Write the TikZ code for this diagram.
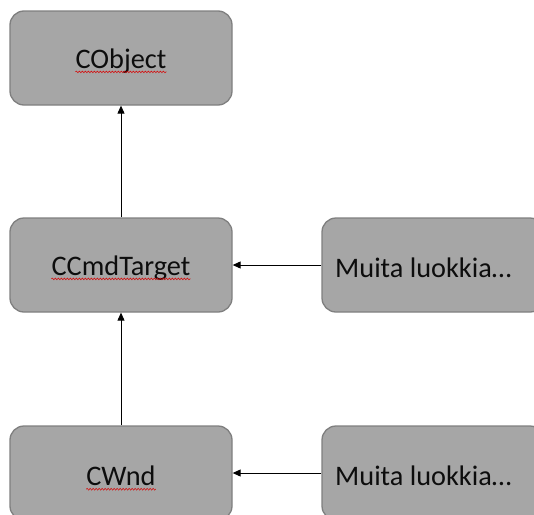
\documentclass[tikz,border=0pt]{standalone}
\usepackage{fontspec}
\setmainfont{Carlito}
\usetikzlibrary{arrows.meta,decorations.pathmorphing}
\definecolor{boxfill}{HTML}{A6A6A6}
\definecolor{boxline}{HTML}{7F7F7F}
\tikzset{
  classbox/.style={draw=boxline, line width=1.3pt, fill=boxfill, rounded corners=14pt,
    minimum width=222pt, minimum height=94pt, inner sep=0pt},
  label/.style={inner sep=0pt, font=\fontsize{28.3}{34}\selectfont, text=black!95},
  inherit/.style={draw=black, line width=0.9pt, -{Triangle[length=8pt,width=7pt]}},
  spell/.style={draw=red!85!black, line width=0.5pt, decorate,
    decoration={snake, amplitude=0.9pt, segment length=3pt}}
}
\begin{document}
\begin{tikzpicture}[x=1pt,y=-1pt]
\useasboundingbox (0,0) rectangle (534,514);
\clip (0,0) rectangle (534,514);
\node[classbox] (cobject) at (121,58) {};
\node[classbox] (ccmd) at (121,265) {};
\node[classbox] (muita1) at (433,265) {};
\node[classbox] (cwnd) at (121,473) {};
\node[classbox] (muita2) at (433,473) {};
\node[label] (tcobject) at ([yshift=-3pt]cobject.center) {CObject};
\node[label] (tccmd) at ([yshift=-3pt]ccmd.center) {CCmdTarget};
\node[label, anchor=west] (tmuita1) at (335,268) {Muita luokkia…};
\node[label] (tcwnd) at ([yshift=-3pt]cwnd.center) {CWnd};
\node[label, anchor=west] (tmuita2) at (335,476) {Muita luokkia…};
\draw[spell] ([yshift=-3.5pt]tcobject.base west) -- ([yshift=-3.5pt]tcobject.base east);
\draw[spell] ([yshift=-3.5pt]tccmd.base west) -- ([yshift=-3.5pt]tccmd.base east);
\draw[spell] ([yshift=-3.5pt]tcwnd.base west) -- ([yshift=-3.5pt]tcwnd.base east);
\draw[inherit] (ccmd.north) -- (cobject.south);
\draw[inherit] (cwnd.north) -- (ccmd.south);
\draw[inherit] (muita1.west) -- (ccmd.east);
\draw[inherit] (muita2.west) -- (cwnd.east);
\end{tikzpicture}
\end{document}
